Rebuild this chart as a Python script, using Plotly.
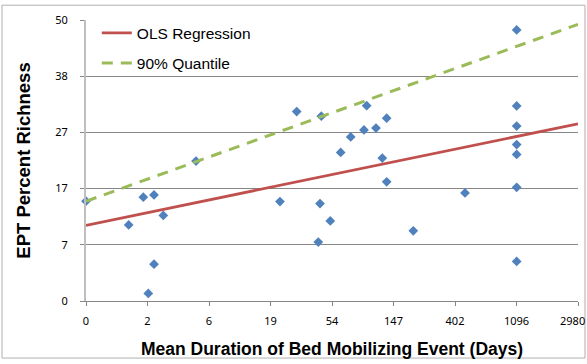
import plotly.graph_objects as go

# Data (axis units: x = ln(1+days) position, y = transformed richness position)
x_points = [0.0, 0.694, 0.932, 1.106, 1.257, 1.106, 1.013, 1.789,
            3.426, 3.826, 4.564, 4.889, 4.715, 4.520, 4.304, 4.141, 4.818, 4.889,
            3.154, 3.805, 3.972, 3.777, 5.322,
            7.003, 7.003, 7.003, 7.003, 7.003, 7.003, 7.003, 6.163]
y_points = [1.776, 1.354, 1.847, 1.887, 1.523, 0.656, 0.134, 2.490,
            3.370, 3.289, 3.475, 3.254, 3.078, 3.043, 2.919, 2.643, 2.543, 2.121,
            1.769, 1.734, 1.425, 1.048, 1.249,
            4.824, 3.470, 3.113, 2.784, 2.608, 2.022, 0.703, 1.922]

ols_x = [0, 8]
ols_y = [1.347, 3.153]
q90_x = [0, 8]
q90_y = [1.775, 4.923]

x_tickvals = [0, 1, 2, 3, 4, 5, 6, 7, 8]
x_ticklabels = ["0", "2", "6", "19", "54", "147", "402", "1096", "2980"]
y_tickvals = [0, 1, 2, 3, 4, 5]
y_ticklabels = ["0", "7", "17", "27", "38", "50"]

tick_font = dict(family="Noto Sans", size=11, color="#000000")

fig = go.Figure()
fig.add_trace(go.Scatter(
    x=x_points, y=y_points, mode="markers",
    marker=dict(symbol="diamond", size=7.5, color="#4F81BD"),
    showlegend=False, cliponaxis=False))
fig.add_trace(go.Scatter(
    x=ols_x, y=ols_y, mode="lines", name="OLS Regression",
    line=dict(color="#C0504D", width=2.75), legendgroup="a"))
fig.add_trace(go.Scatter(
    x=q90_x, y=q90_y, mode="lines", name="90% Quantile",
    line=dict(color="#9BBB59", width=3, dash="11px,8px"), legendgroup="b"))

# last tick label shifted inward so it fits within the page
shown_x_labels = x_ticklabels[:-1] + [""]

fig.update_layout(
    width=587, height=364,
    margin=dict(l=86, r=9, t=20, b=60),
    paper_bgcolor="white", plot_bgcolor="white",
    font=dict(family="Liberation Sans, Arial", color="#000000"),
    legend=dict(x=0.022, y=1.013, xanchor="left", yanchor="top",
                font=dict(family="Liberation Sans, Arial", size=15.5),
                bgcolor="rgba(0,0,0,0)", tracegroupgap=7, itemwidth=30),
    xaxis=dict(range=[0, 8], tickvals=x_tickvals, ticktext=shown_x_labels,
               showgrid=False, zeroline=False, showline=True,
               linecolor="#868686", linewidth=1, ticks="outside",
               ticklen=4, tickcolor="#868686", tickfont=tick_font,
               ticklabelstandoff=6,
               title=dict(text="<b>Mean Duration of Bed Mobilizing Event (Days)</b>",
                          font=dict(family="Liberation Sans, Arial", size=17.5),
                          standoff=15)),
    yaxis=dict(range=[0, 5], tickvals=y_tickvals, ticktext=y_ticklabels,
               showgrid=True, gridcolor="#868686", gridwidth=1,
               zeroline=False, showline=True, linecolor="#BFBFBF",
               linewidth=2, ticks="outside", ticklen=4, tickcolor="#868686",
               tickfont=tick_font, ticklabelstandoff=10,
               title=dict(text="<b>EPT Percent Richness</b>",
                          font=dict(family="Liberation Sans, Arial", size=18.5),
                          standoff=20)),
    shapes=[dict(type="rect", xref="paper", yref="paper",
                 x0=-0.1707, x1=1.0142, y0=-0.203, y1=1.0527,
                 line=dict(color="#B0B0B0", width=1), layer="below")],
    annotations=[dict(text=x_ticklabels[-1], x=x_tickvals[-1], xref="x",
                      y=-0.07, yref="paper", xanchor="center", yanchor="middle",
                      xshift=-6, showarrow=False, font=tick_font)],
)

fig.write_html("out.html")
